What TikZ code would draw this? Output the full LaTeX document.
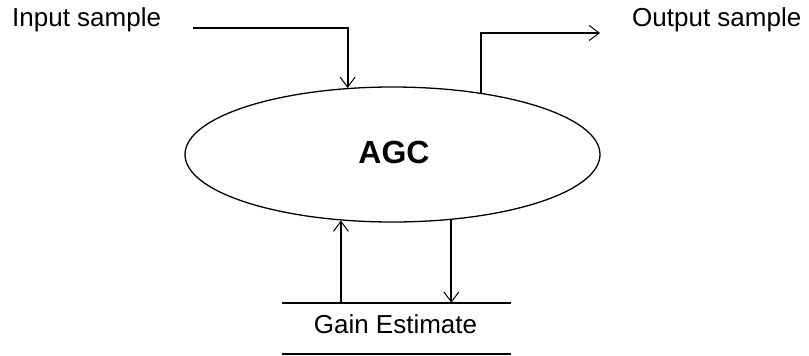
\documentclass[tikz,border=0pt]{standalone}
\usepackage{fontspec}
\setmainfont{Liberation Sans}
\usetikzlibrary{shapes.geometric,arrows.meta}
\tikzset{
  label/.style={inner sep=0pt, font=\fontsize{26}{30}\selectfont},
  procbox/.style={ellipse, draw, line width=1.3pt, minimum width=415pt,
    minimum height=135pt, inner sep=0pt,
    font=\fontsize{32}{36}\selectfont\bfseries},
  flow/.style={line width=2pt,
    -{Straight Barb[length=10pt, width=15pt, line width=1pt]}},
  storeline/.style={line width=2pt}
}
\begin{document}
\begin{tikzpicture}[x=1pt, y=-1pt]
  \useasboundingbox (0,0) rectangle (809,356);

  % process
  \node[procbox] (agc) at (392.5,154.5) {};
  \node[inner sep=0pt, anchor=base, font=\fontsize{32}{36}\selectfont\bfseries]
    (agctext) at (394,163) {AGC};

  % terminals
  \node[label, anchor=base west] (insample) at (12,27) {Input sample};
  \node[label, anchor=base west] (outsample) at (632,27) {Output sample};
  \coordinate (inp) at (193,28);
  \coordinate (outp) at (600,33);

  % data store
  \node[label, minimum width=229pt, minimum height=51pt] (store) at (396.5,328.5) {};
  \node[label, anchor=base] (gain) at (395.5,333) {Gain Estimate};
  \draw[storeline] (store.north west) -- (store.north east);
  \draw[storeline] (store.south west) -- (store.south east);

  % flows
  \draw[flow] (inp) -| (agc.124.6);
  \draw[flow] (agc.35.35) |- (outp);
  \draw[flow] (agc.232.94 |- store.north) -- (agc.232.94);
  \draw[flow] (agc.-48.98) -- (agc.-48.98 |- store.north);
\end{tikzpicture}
\end{document}
